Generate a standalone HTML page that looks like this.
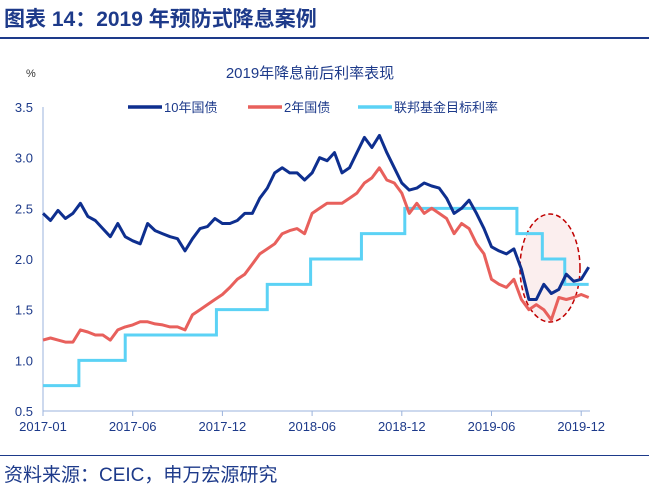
<!DOCTYPE html>
<html><head><meta charset="utf-8"><style>
body{margin:0;width:649px;height:497px;background:#fff;font-family:"Liberation Sans","Noto Sans CJK SC",sans-serif;overflow:hidden;position:relative}
#hdr{position:absolute;left:4px;top:3px;font-size:21px;font-weight:bold;color:#1d3a8a}
#hl{position:absolute;left:0;top:37px;width:649px;height:2px;background:#1d3a8a}
#fl{position:absolute;left:0;top:455px;width:649px;height:1px;background:#1d3a8a}
#ftr{position:absolute;left:4px;top:460px;font-size:19px;color:#1d3a8a}
</style></head><body>
<div id="hdr">图表 14：2019 年预防式降息案例</div>
<div id="hl"></div>
<svg id="chart" width="649" height="497" style="position:absolute;left:0;top:0"></svg>
<div id="fl"></div>
<div id="ftr">资料来源：CEIC，申万宏源研究</div>
<script>
const yTicks=[0.5,1.0,1.5,2.0,2.5,3.0,3.5];
const xTickLabels=["2017-01","2017-06","2017-12","2018-06","2018-12","2019-06","2019-12"];
const xTickMonths=[0,6,12,18,24,30,36];
const tenYear=[2.45,2.38,2.48,2.4,2.45,2.55,2.42,2.38,2.3,2.22,2.35,2.22,2.18,2.15,2.35,2.28,2.25,2.22,2.2,2.08,2.2,2.3,2.32,2.4,2.35,2.35,2.38,2.45,2.45,2.6,2.7,2.85,2.9,2.85,2.85,2.78,2.85,3.0,2.97,3.05,2.85,2.9,3.05,3.2,3.1,3.22,3.05,2.9,2.75,2.68,2.7,2.75,2.72,2.7,2.6,2.45,2.5,2.58,2.45,2.3,2.12,2.08,2.05,2.1,1.9,1.6,1.6,1.75,1.66,1.7,1.85,1.78,1.8,1.92];
const twoYear=[1.2,1.22,1.2,1.18,1.18,1.3,1.28,1.25,1.25,1.2,1.3,1.33,1.35,1.38,1.38,1.36,1.35,1.33,1.33,1.3,1.45,1.5,1.55,1.6,1.65,1.72,1.8,1.85,1.95,2.05,2.1,2.15,2.25,2.28,2.3,2.25,2.45,2.5,2.55,2.55,2.55,2.6,2.65,2.75,2.8,2.9,2.78,2.75,2.65,2.45,2.55,2.45,2.5,2.45,2.4,2.25,2.35,2.3,2.15,2.05,1.8,1.75,1.72,1.8,1.6,1.5,1.55,1.5,1.4,1.62,1.6,1.62,1.65,1.62];
const fedMonths=[0,2.4,5.5,11.6,15,17.9,21.3,24.2,31.7,33.4,34.9,36.5];
const fedRates=[0.75,1.0,1.25,1.5,1.75,2.0,2.25,2.5,2.25,2.0,1.75,1.75];
const NS="http://www.w3.org/2000/svg";
const svg=document.getElementById('chart');
const X=m=>43+m*14.95, Y=v=>411-(v-0.5)*101.33;
function mk(t,a,p){const e=document.createElementNS(NS,t);for(const k in a)e.setAttribute(k,a[k]);(p||svg).appendChild(e);return e;}
function txt(s,a){const e=mk('text',a);e.textContent=s;return e;}
let e;
e=txt('2019年降息前后利率表现',{x:310,y:78,'text-anchor':'middle','font-size':15,fill:'#1d3a8a'});

e=txt('%',{x:26,y:77,'font-size':11,fill:'#333'});

e=mk('line',{x1:43,y1:Y(3.5),x2:43,y2:411,stroke:'#9bb3dc','stroke-width':1});

e=mk('line',{x1:43,y1:411,x2:590,y2:411,stroke:'#9bb3dc','stroke-width':1});

yTicks.forEach(v=>{
 e=txt(v.toFixed(1),{x:33,y:Y(v)+5,'text-anchor':'end','font-size':13,fill:'#1d3a8a'});
 
});
xTickLabels.forEach((l,i)=>{
 const x=X(xTickMonths[i]);
 mk('line',{x1:x,y1:411,x2:x,y2:416,stroke:'#9bb3dc'});
 e=txt(l,{x:x,y:431,'text-anchor':'middle','font-size':13,fill:'#1d3a8a'});
 
});
// ellipse highlight
e=mk('ellipse',{cx:550,cy:268,rx:30,ry:54,fill:'#fbeeee',stroke:'#c00000','stroke-width':1.5,'stroke-dasharray':'5,3'});

// fed step
let d='';fedRates.forEach((r,i)=>{if(i==fedRates.length-1)return;const x0=X(fedMonths[i]),x1=X(fedMonths[i+1]);d+=(i?'L':'M')+x0+','+Y(r)+'L'+x1+','+Y(r);});
e=mk('path',{d:d,fill:'none',stroke:'#5bd2f5','stroke-width':3});

function line(arr,c,n){const p=arr.map((v,i)=>(i?'L':'M')+X(i*0.5).toFixed(1)+','+Y(v).toFixed(1)).join('');
 const el=mk('path',{d:p,fill:'none',stroke:c,'stroke-width':3,'stroke-linejoin':'round'});
 }
line(twoYear,'#e8605c','two-year-line');
line(tenYear,'#0e2f8f','ten-year-line');
// legend
const leg=[['10年国债','#0e2f8f',128],['2年国债','#e8605c',248],['联邦基金目标利率','#5bd2f5',358]];
leg.forEach(l=>{
 const g=mk('g',{});
 
 mk('line',{x1:l[2],y1:107,x2:l[2]+34,y2:107,stroke:l[1],'stroke-width':3.5},g);
 const t=mk('text',{x:l[2]+36,y:112,'font-size':13,fill:'#1d3a8a'},g);t.textContent=l[0];
});
</script>
</body></html>
